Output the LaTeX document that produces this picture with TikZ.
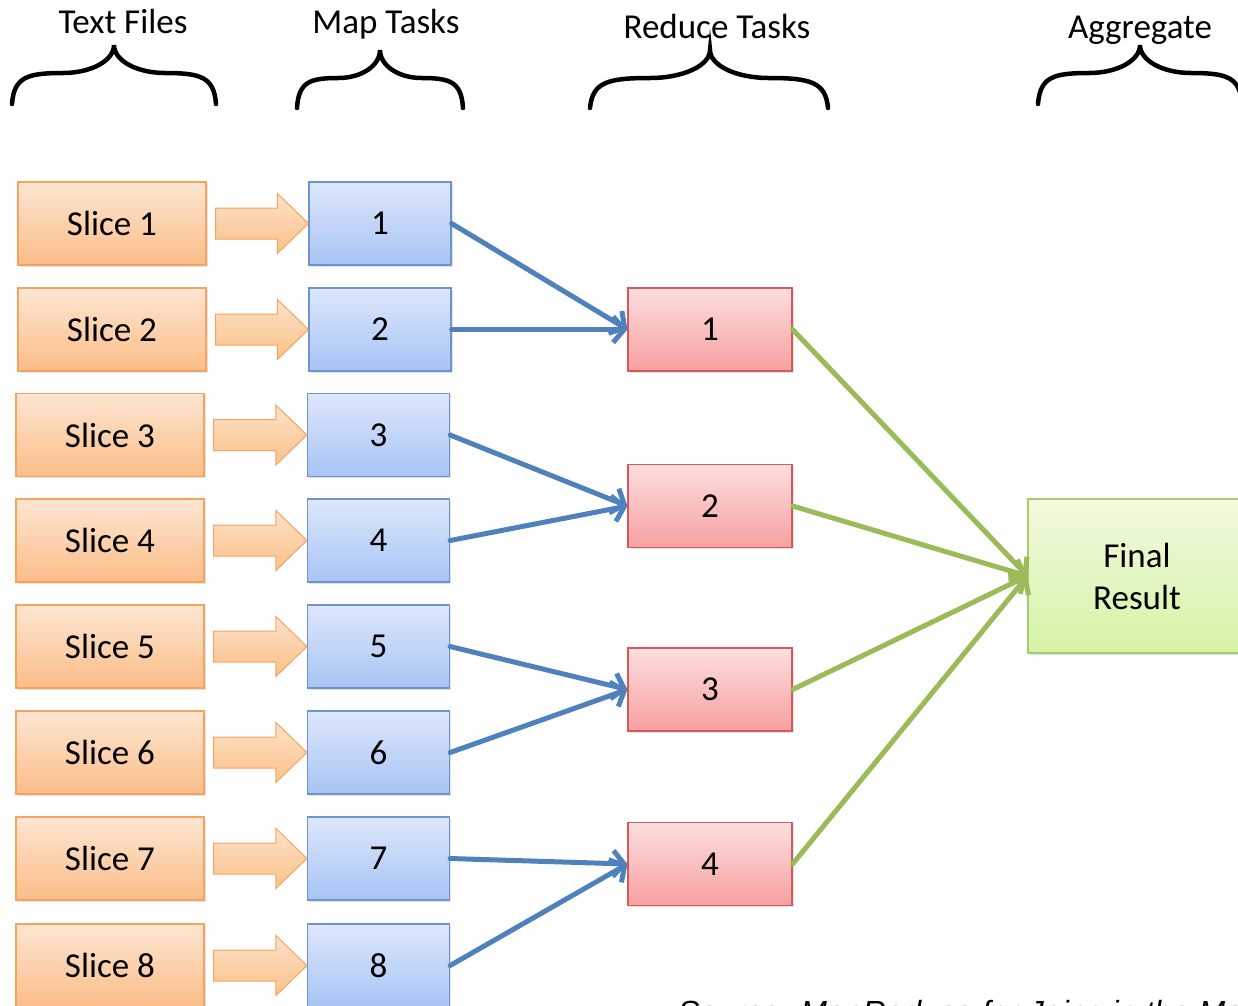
\documentclass[tikz,border=0pt]{standalone}
\usepackage{fontspec}
\setmainfont{Carlito}
\newfontfamily\srcfont{Liberation Sans}
\usetikzlibrary{arrows.meta,shadows,calc}

\definecolor{orangetop}{HTML}{FDE6D2}
\definecolor{orangebot}{HTML}{FBBD88}
\definecolor{orangeline}{HTML}{F5A35E}
\definecolor{arrowtop}{HTML}{FDE1C8}
\definecolor{arrowbot}{HTML}{FBC189}
\definecolor{arrowline}{HTML}{F5A35E}
\definecolor{bluetop}{HTML}{DDE7FB}
\definecolor{bluebot}{HTML}{A7C4F5}
\definecolor{blueline}{HTML}{6F94CD}
\definecolor{redtop}{HTML}{FDDEDE}
\definecolor{redbot}{HTML}{F7A0A0}
\definecolor{redline}{HTML}{D4595A}
\definecolor{greentop}{HTML}{F1FADF}
\definecolor{greenbot}{HTML}{D5F3A5}
\definecolor{greenline}{HTML}{A9C973}
\definecolor{bluearrow}{HTML}{4F81BD}
\definecolor{greenarrow}{HTML}{9BBB59}

% curly brace over a column: x-left, x-tip, x-right, y-tip, y-shoulder, y-end
\newcommand{\headbrace}[6]{%
  \pgfmathsetmacro\hbl{#2-#1}\pgfmathsetmacro\hbr{#3-#2}%
  \pgfmathsetmacro\hbk{#5-0.45*(#5-#4)}%
  \draw[bracestyle] (#1,#6) .. controls ({#1+0.02*\hbl},{#5+4}) and ({#1+0.15*\hbl},#5) .. ({#1+0.5*\hbl},#5)
    .. controls ({#2-0.22*\hbl},#5) and (#2,\hbk) .. (#2,#4)
    .. controls (#2,\hbk) and ({#2+0.22*\hbr},#5) .. ({#2+0.5*\hbr},#5)
    .. controls ({#3-0.15*\hbr},#5) and ({#3-0.02*\hbr},{#5+4}) .. (#3,#6);}

\begin{document}
\begin{tikzpicture}[x=1pt,y=-1pt,
  boxfont/.style={font=\fontsize{35}{42}\selectfont},
  softshadow/.style={drop shadow={shadow xshift=1.5pt,shadow yshift=-1.5pt,opacity=.22}},
  slicebox/.style={boxfont,draw=orangeline,line width=1.2pt,top color=orangetop,bottom color=orangebot,
    minimum width=188pt,minimum height=83pt,inner sep=0pt,softshadow},
  mapbox/.style={boxfont,draw=blueline,line width=1.2pt,top color=bluetop,bottom color=bluebot,
    minimum width=142pt,minimum height=83pt,inner sep=0pt,softshadow},
  redbox/.style={boxfont,draw=redline,line width=1.2pt,top color=redtop,bottom color=redbot,
    minimum width=164pt,minimum height=83pt,inner sep=0pt,softshadow},
  finalbox/.style={boxfont,draw=greenline,line width=1.2pt,top color=greentop,bottom color=greenbot,
    minimum width=218pt,minimum height=154pt,inner sep=0pt,align=center,softshadow},
  blockarrow/.style={draw=arrowline,line width=1pt,top color=arrowtop,bottom color=arrowbot,line join=miter},
  maplink/.style={draw=bluearrow,line width=5pt,line cap=round,-{Straight Barb[length=11pt,width=26pt]}},
  agglink/.style={draw=greenarrow,line width=5pt,line cap=round,-{Straight Barb[length=11pt,width=26pt]}},
  bracestyle/.style={draw=black,line width=4.5pt,line cap=round},
  headlabel/.style={font=\fontsize{35}{40}\selectfont,anchor=base}
]
\useasboundingbox (0,0) rectangle (1238,1005);

% column headings
\node[headlabel] (hText) at (123,33) {Text Files};
\node[headlabel] (hMap) at (386,33) {Map Tasks};
\node[headlabel] (hReduce) at (717,38) {Reduce Tasks};
\node[headlabel] (hAgg) at (1140,38) {Aggregate};

\headbrace{12}{114}{216}{45}{73}{104}
\headbrace{297}{380}{463}{50}{78}{108}
\headbrace{590}{710}{828}{50}{78}{108}
\headbrace{1038}{1140}{1242}{45}{73}{104}

% input slices and map tasks
\node[slicebox] (s1) at (112,223.5) {Slice 1};
\node[slicebox] (s2) at (112,329.5) {Slice 2};
\node[slicebox] (s3) at (110,435) {Slice 3};
\node[slicebox] (s4) at (110,540.5) {Slice 4};
\node[slicebox] (s5) at (110,646.5) {Slice 5};
\node[slicebox] (s6) at (110,752.5) {Slice 6};
\node[slicebox] (s7) at (110,858.5) {Slice 7};
\node[slicebox] (s8) at (110,965.5) {Slice 8};

\node[mapbox] (m1) at (380,223.5) {1};
\node[mapbox] (m2) at (380,329.5) {2};
\node[mapbox] (m3) at (378.5,435) {3};
\node[mapbox] (m4) at (378.5,540.5) {4};
\node[mapbox] (m5) at (378.5,646.5) {5};
\node[mapbox] (m6) at (378.5,752.5) {6};
\node[mapbox] (m7) at (378.5,858.5) {7};
\node[mapbox] (m8) at (378.5,965.5) {8};

% block arrows from each slice to its map task
\foreach \i in {1,...,8}{
  \draw[blockarrow] ($(s\i.east)+(9,-15.5)$) -- ($(m\i.west)+(-31,-15.5)$) -- ($(m\i.west)+(-31,-30)$)
    -- (m\i.west) -- ($(m\i.west)+(-31,30)$) -- ($(m\i.west)+(-31,15.5)$) -- ($(s\i.east)+(9,15.5)$) -- cycle;
}

% reduce tasks and final result
\node[redbox] (r1) at (710,329.5) {1};
\node[redbox] (r2) at (710,506) {2};
\node[redbox] (r3) at (710,689.5) {3};
\node[redbox] (r4) at (710,864) {4};

\node[finalbox] (fin) at (1137,576) {Final\\Result};

% shuffle from map tasks to reduce tasks
\draw[maplink] (m1.east) -- (r1.west);
\draw[maplink] (m2.east) -- (r1.west);
\draw[maplink] (m3.east) -- (r2.west);
\draw[maplink] (m4.east) -- (r2.west);
\draw[maplink] (m5.east) -- (r3.west);
\draw[maplink] (m6.east) -- (r3.west);
\draw[maplink] (m7.east) -- (r4.west);
\draw[maplink] (m8.east) -- (r4.west);

% aggregation of reduce outputs
\draw[agglink] (r1.east) -- (fin.west);
\draw[agglink] (r2.east) -- (fin.west);
\draw[agglink] (r3.east) -- (fin.west);
\draw[agglink] (r4.east) -- (fin.west);

% source line along the lower edge
\node[anchor=base west,inner sep=0pt,font=\srcfont\itshape\fontsize{32}{36}\selectfont] (src) at (678,1023)
  {Source: MapReduce for Joins in the Mapper};
\end{tikzpicture}
\end{document}
